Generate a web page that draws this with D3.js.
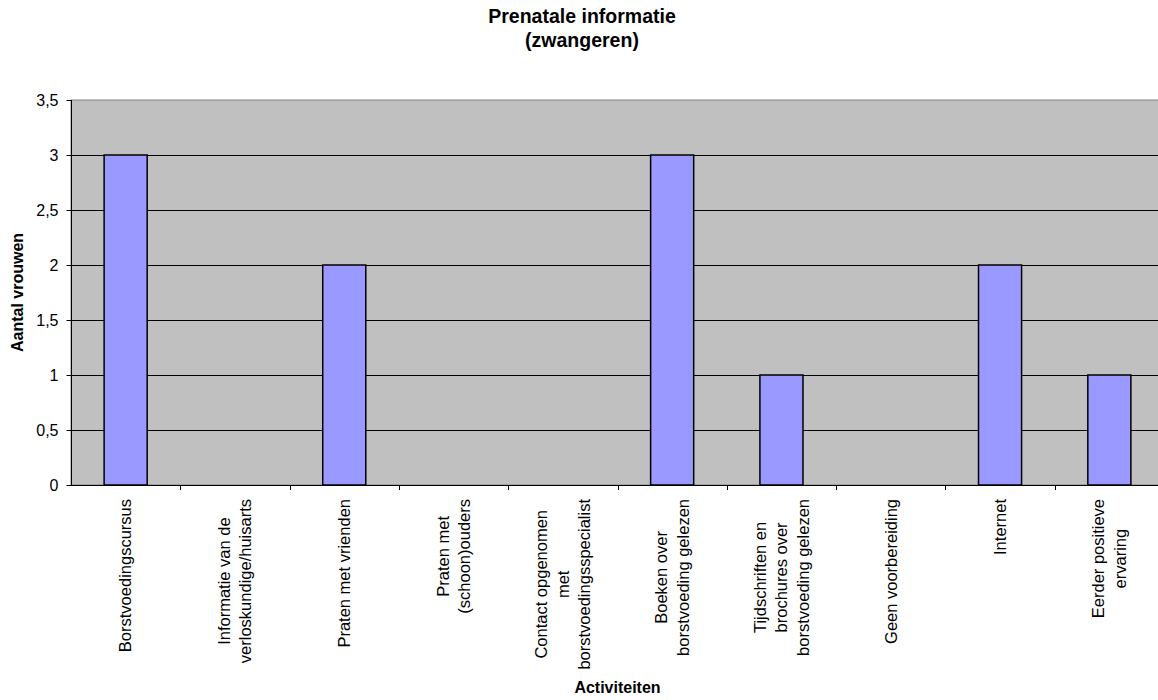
<!DOCTYPE html>
<html>
<head>
<meta charset="utf-8">
<script src="https://cdn.jsdelivr.net/npm/d3@7"></script>
<style>
  html, body { margin: 0; padding: 0; background: #fff; overflow: hidden; }
  svg { display: block; font-family: Arial, "Liberation Sans", sans-serif; }
</style>
</head>
<body>
<svg id="chart" width="1158" height="700"></svg>
<script>
// Activities (each label split into the lines it is printed on)
const categories = [
  ["Borstvoedingscursus"],
  ["Informatie van de", "verloskundige/huisarts"],
  ["Praten met vrienden"],
  ["Praten met", "(schoon)ouders"],
  ["Contact opgenomen", "met", "borstvoedingsspecialist"],
  ["Boeken over", "borstvoeding gelezen"],
  ["Tijdschriften en", "brochures over", "borstvoeding gelezen"],
  ["Geen voorbereiding"],
  ["Internet"],
  ["Eerder positieve", "ervaring"]
];
// Number of women per activity
const values = [3, 0, 2, 0, 0, 3, 1, 0, 2, 1];
const yTicks = [0, 0.5, 1, 1.5, 2, 2.5, 3, 3.5];
const titleLines = ["Prenatale informatie", "(zwangeren)"];
const yTitle = "Aantal vrouwen";
const xTitle = "Activiteiten";

const svg = d3.select("#chart");
const plot = { left: 71, right: 1164, top: 100, bottom: 485 };
const keys = categories.map((c, i) => i);

const y = d3.scaleLinear().domain([0, 3.5]).range([plot.bottom, plot.top]);
const xCat = d3.scaleBand().domain(keys).range([plot.left, plot.right]).padding(0);
const xBar = d3.scaleBand().domain(keys).range([plot.left, plot.right])
  .paddingInner(0.606).paddingOuter(0.303);
const fmt = d => String(d).replace(".", ",");

// Plot background
svg.append("rect")
  .attr("x", plot.left).attr("y", plot.top)
  .attr("width", plot.right - plot.left).attr("height", plot.bottom - plot.top)
  .attr("fill", "#c0c0c0").attr("stroke", "#808080").attr("stroke-width", 1);

// Horizontal gridlines
svg.append("g").selectAll("line")
  .data(yTicks.filter(t => t > 0 && t < 3.5))
  .join("line")
  .attr("x1", plot.left).attr("x2", plot.right)
  .attr("y1", d => Math.round(y(d)) + 0.5).attr("y2", d => Math.round(y(d)) + 0.5)
  .attr("stroke", "#000").attr("stroke-width", 1);

// Bars
svg.append("g").selectAll("rect")
  .data(values.map((v, i) => ({ i, v })).filter(d => d.v > 0))
  .join("rect")
  .attr("x", d => xBar(d.i))
  .attr("y", d => y(d.v))
  .attr("width", xBar.bandwidth())
  .attr("height", d => y(0) - y(d.v))
  .attr("fill", "#9999ff")
  .attr("stroke", "#000").attr("stroke-width", 1.5);

// Y axis
const yAxis = d3.axisLeft(y).tickValues(yTicks).tickFormat(fmt).tickSize(5).tickPadding(8);
const gy = svg.append("g").attr("transform", `translate(${plot.left + 0.5},0)`).call(yAxis);
gy.select(".domain").attr("stroke", "#000").attr("d", `M0,${plot.top}V${plot.bottom}`);
gy.selectAll(".tick line").attr("stroke", "#000");
gy.selectAll(".tick text").attr("font-size", 16).attr("fill", "#000")
  .attr("font-family", "Arial, 'Liberation Sans', sans-serif");

// X axis line and category separators
svg.append("line")
  .attr("x1", plot.left).attr("x2", plot.right)
  .attr("y1", plot.bottom + 0.5).attr("y2", plot.bottom + 0.5)
  .attr("stroke", "#000");
svg.append("g").selectAll("line")
  .data(keys.slice(1))
  .join("line")
  .attr("x1", d => Math.round(xCat(d)) + 0.5).attr("x2", d => Math.round(xCat(d)) + 0.5)
  .attr("y1", plot.bottom).attr("y2", plot.bottom + 5)
  .attr("stroke", "#000");

// Rotated category labels, top-aligned below the axis, lines centred
const fs = 16.5, lineH = 21.5, labelTop = 499;
const measurer = svg.append("text").attr("font-size", fs).attr("visibility", "hidden");
const textWidth = s => { measurer.text(s); return measurer.node().getComputedTextLength(); };

categories.forEach((lines, i) => {
  const maxW = d3.max(lines, textWidth);
  const cx = xCat(i) + xCat.bandwidth() / 2;
  const cy = labelTop + maxW / 2;
  const g = svg.append("g").attr("transform", `translate(${cx},${cy}) rotate(-90)`);
  const n = lines.length;
  lines.forEach((line, k) => {
    g.append("text")
      .attr("x", 0)
      .attr("y", (k - (n - 1) / 2) * lineH)
      .attr("dy", "0.35em")
      .attr("text-anchor", "middle")
      .attr("font-size", fs)
      .attr("fill", "#000")
      .text(line);
  });
});
measurer.remove();

// Titles
const title = svg.append("text").attr("text-anchor", "middle")
  .attr("font-size", 19.5).attr("font-weight", "bold").attr("fill", "#000");
titleLines.forEach((t, k) => {
  title.append("tspan").attr("x", 582).attr("y", 23 + k * 23.5).text(t);
});

svg.append("text")
  .attr("transform", `translate(23,${(plot.top + plot.bottom) / 2}) rotate(-90)`)
  .attr("text-anchor", "middle")
  .attr("font-size", 16).attr("font-weight", "bold").attr("fill", "#000")
  .text(yTitle);

svg.append("text")
  .attr("x", (plot.left + plot.right) / 2).attr("y", 693)
  .attr("text-anchor", "middle")
  .attr("font-size", 16).attr("font-weight", "bold").attr("fill", "#000")
  .text(xTitle);
</script>
</body>
</html>
